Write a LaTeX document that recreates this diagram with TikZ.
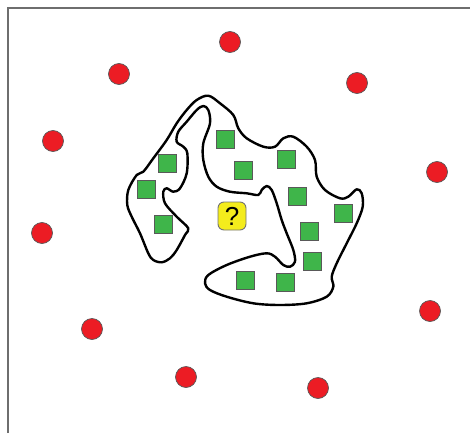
\documentclass[tikz,border=0pt]{standalone}
\usepackage{fontspec}
\setmainfont{Liberation Sans}
\definecolor{redc}{HTML}{EC1C24}
\definecolor{greenc}{HTML}{3FB54A}
\definecolor{yellowc}{HTML}{F4EC1C}
\definecolor{framec}{HTML}{6E6E6E}
\tikzset{
  redpt/.style={circle, fill=redc, draw=black!65, line width=0.7pt, minimum size=21pt, inner sep=0pt},
  greenpt/.style={rectangle, fill=greenc, draw=black!65, line width=0.9pt, minimum size=18pt, inner sep=0pt},
  qbox/.style={rectangle, rounded corners=6pt, fill=yellowc, draw=black!55, line width=0.9pt, minimum size=28pt, inner sep=0pt, font=\fontsize{26}{26}\selectfont},
  blob/.style={line width=2.4pt, line join=round}
}
\begin{document}
\begin{tikzpicture}[x=1pt,y=-1pt]
\useasboundingbox (0,0) rectangle (470,433);
\draw[framec, line width=1.5pt] (8,433) -- (8,8) -- (470,8);
% blob
\draw[blob] plot[smooth cycle, tension=0.55] coordinates {
(208.3,95.7) (220,103.3) (233.3,115) (238.3,128.3) (246.7,138.3) (263.3,146.7) (275,146.7) (283.3,138.3) (293.3,136.7) (306.7,146.7) (315,160) (316.7,176.7) (325,190) (340,198.3) (348.3,196.7) (356.7,189.3) (361.7,193.3) (362.7,206.7) (356.7,223.3) (346.7,243.3) (336.7,263.3) (331.7,276.7) (333.3,286.7) (326.7,296.7) (306.7,303.3) (280,305) (253.3,303.3) (226.7,296.7) (210,290) (205,283.3) (208.3,275) (226.7,265) (250,256.7) (266.7,253.3) (275,256.7) (283.3,265) (290,266.7) (295,261.7) (293.3,250) (286.7,233.3) (281.7,220) (276.7,203.3) (271.7,190) (266.7,186) (261.7,190) (258.3,195) (246.7,193.3) (230,191.7) (216.7,186.7) (208.3,176.7) (203.3,160) (203.3,143.3) (210,123.3) (208.3,110) (203.3,106) (196.7,110) (186.7,121.7) (178.3,131.7) (176.7,141.7) (183.3,146.7) (187.3,153.3) (186.7,173.3) (180,188.3) (173.3,191.7) (166.7,188.3) (163.3,191.7) (165,203.3) (176.7,216.7) (188.3,228.3) (185,235) (176.7,250) (170,258.3) (161.7,262.3) (153.3,260) (148.3,253.3) (140,233.3) (131.7,216.7) (127.3,205) (128.3,190) (136.7,175) (143.3,171.7) (153.3,158.3) (166.7,140) (176.7,123.3) (186.7,110) (196.7,100)
};
% red circles
\node[redpt] (r1) at (230,42) {};
\node[redpt] (r2) at (119,74) {};
\node[redpt] (r3) at (357,83) {};
\node[redpt] (r4) at (53,141) {};
\node[redpt] (r5) at (437,172) {};
\node[redpt] (r6) at (42,233) {};
\node[redpt] (r7) at (430,311) {};
\node[redpt] (r8) at (92,329) {};
\node[redpt] (r9) at (186,377) {};
\node[redpt] (r10) at (318,388) {};
% green squares
\node[greenpt] (g1) at (167,163) {};
\node[greenpt] (g2) at (146,189) {};
\node[greenpt] (g3) at (163,224) {};
\node[greenpt] (g4) at (225,139) {};
\node[greenpt] (g5) at (243,170) {};
\node[greenpt] (g6) at (286,159) {};
\node[greenpt] (g7) at (297,196) {};
\node[greenpt] (g8) at (343,213) {};
\node[greenpt] (g9) at (309,231) {};
\node[greenpt] (g10) at (312,261) {};
\node[greenpt] (g11) at (245,280) {};
\node[greenpt] (g12) at (285,282) {};
% query
\node[qbox] (q) at (232,216) {?};
\end{tikzpicture}
\end{document}
